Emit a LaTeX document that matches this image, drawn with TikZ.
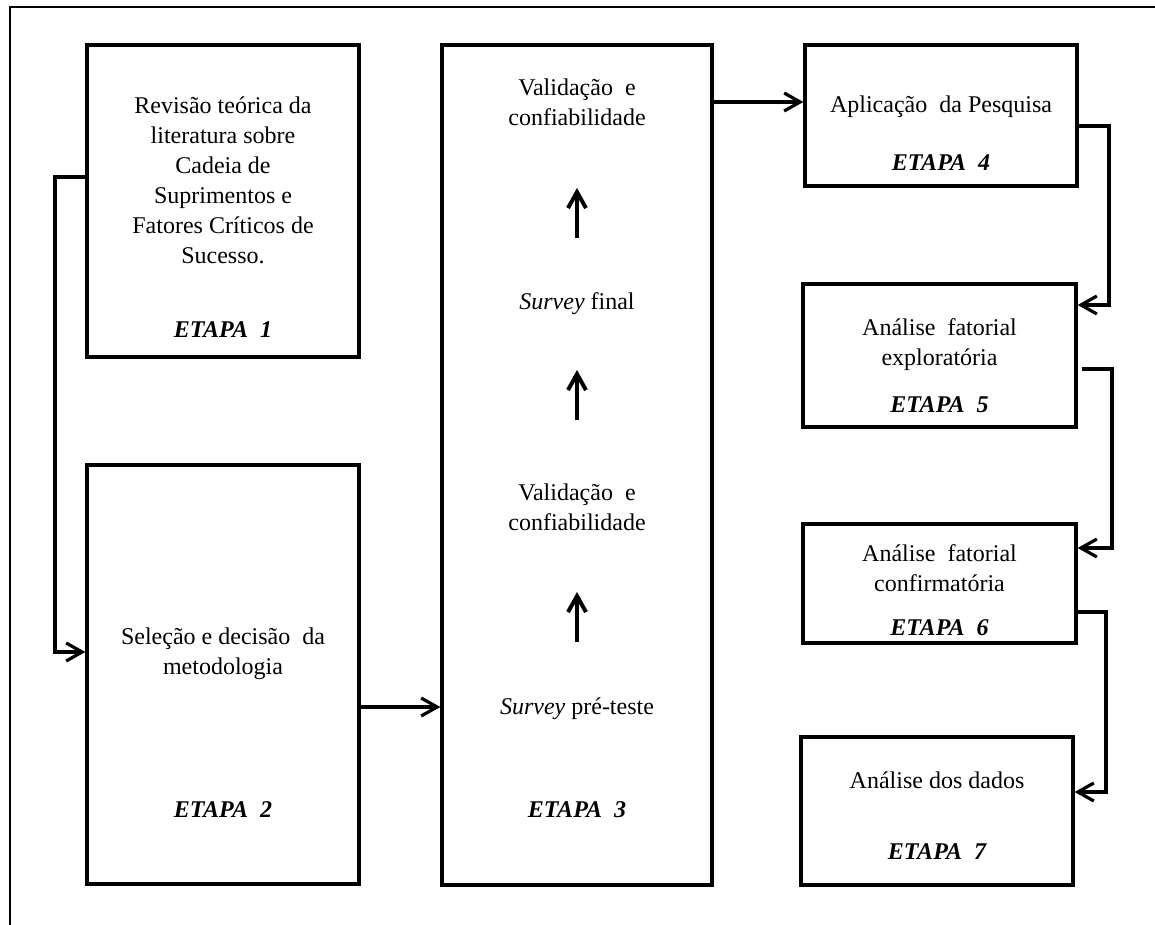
\documentclass[tikz,border=0pt]{standalone}
\usepackage{fontspec}
\setmainfont{Liberation Serif}
\usetikzlibrary{arrows.meta}

\begin{document}
\begin{tikzpicture}
	[
	x = {(0.5pt, 0pt)},
	y = {(0pt, -0.5pt)},
	frame/.style = {line width = 1pt, color = black},
	box/.style = {draw = black, line width = 1.6pt, rectangle, inner sep = 0pt},
	txt/.style = {align = center, inner sep = 0pt, font = \fontsize{12}{15}\selectfont},
	etapa/.style = {inner sep = 0pt, font = \fontsize{12}{15}\selectfont\bfseries\itshape},
	conn/.style = {line width = 1.6pt, -{Straight Barb[length = 8pt, width = 9pt, line width = 1.6pt]}},
	uparrow/.style = {line width = 2pt, -{Straight Barb[length = 8pt, width = 9pt, line width = 2pt]}}]
	
	\useasboundingbox (0,0) rectangle (1155,925);
	
	%% Frame
	\draw[frame] (10,925) -- (10,7) -- (1155,7);
	
	%% Boxes
	\node[box, minimum width = 136pt, minimum height = 156pt] (box1) at (223, 201) {};
	\node[box, minimum width = 136pt, minimum height = 209.5pt] (box2) at (223, 674.5) {};
	\node[box, minimum width = 135pt, minimum height = 420pt] (box3) at (577, 465) {};
	\node[box, minimum width = 136pt, minimum height = 70.5pt] (box4) at (941, 115.5) {};
	\node[box, minimum width = 136.5pt, minimum height = 71.5pt] (box5) at (939.5, 355.5) {};
	\node[box, minimum width = 136.5pt, minimum height = 59.5pt] (box6) at (939.5, 583.5) {};
	\node[box, minimum width = 136pt, minimum height = 74pt] (box7) at (937, 811) {};
	
	%% Texts
	\node[txt] (rev) at (223, 180) {Revisão teórica da\\literatura sobre\\Cadeia de\\Suprimentos e\\Fatores Críticos de\\Sucesso.};
	\node[etapa] (et1) at (223, 330) {ETAPA\ \ 1};
	\node[txt] (sel) at (223, 654) {Seleção e decisão\ \ da\\metodologia};
	\node[etapa] (et2) at (223, 810) {ETAPA\ \ 2};
	
	\node[txt] (val1) at (577, 102) {Validação\ \ e\\confiabilidade};
	\node[txt] (sfin) at (577, 304) {\textit{Survey} final};
	\node[txt] (val2) at (577, 507) {Validação\ \ e\\confiabilidade};
	\node[txt] (spre) at (577, 709) {\textit{Survey} pré-teste};
	\node[etapa] (et3) at (577, 810) {ETAPA\ \ 3};
	
	\node[txt] (apl) at (941, 107) {Aplicação\ \ da Pesquisa};
	\node[etapa] (et4) at (941, 163) {ETAPA\ \ 4};
	\node[txt] (afe) at (939.5, 345) {Análise\ \ fatorial\\exploratória};
	\node[etapa] (et5) at (939.5, 405) {ETAPA\ \ 5};
	\node[txt] (afc) at (939.5, 568) {Análise\ \ fatorial\\confirmatória};
	\node[etapa] (et6) at (939.5, 628) {ETAPA\ \ 6};
	\node[txt] (dad) at (937, 780) {Análise\ dos dados};
	\node[etapa] (et7) at (937, 852) {ETAPA\ \ 7};
	
	%% Arrows inside etapa 3
	\draw[uparrow] (sfin.north |- 0,238) -- (val1.south |- 0,188);
	\draw[uparrow] (val2.north |- 0,420) -- (sfin.south |- 0,370);
	\draw[uparrow] (spre.north |- 0,642) -- (val2.south |- 0,592);
	
	%% Connectors between the boxes
	\draw[conn] (box1.west |- 0,177) -- (55,177) -- (55,652) -- (box2.west |- 0,652);
	\draw[conn] (box2.east |- 0,707) -- (box3.west |- 0,707);
	\draw[conn] (box3.east |- 0,102) -- (box4.west |- 0,102);
	\draw[conn] (box4.east |- 0,126) -- (1109,126) |- (box5.east |- 0,305);
	\draw[conn] ([xshift = 2pt]box5.east |- 0,369) -- (1112,369) |- (box6.east |- 0,548);
	\draw[conn] (box6.east |- 0,612) -- (1106,612) |- (box7.east |- 0,792);
\end{tikzpicture}
\end{document}
